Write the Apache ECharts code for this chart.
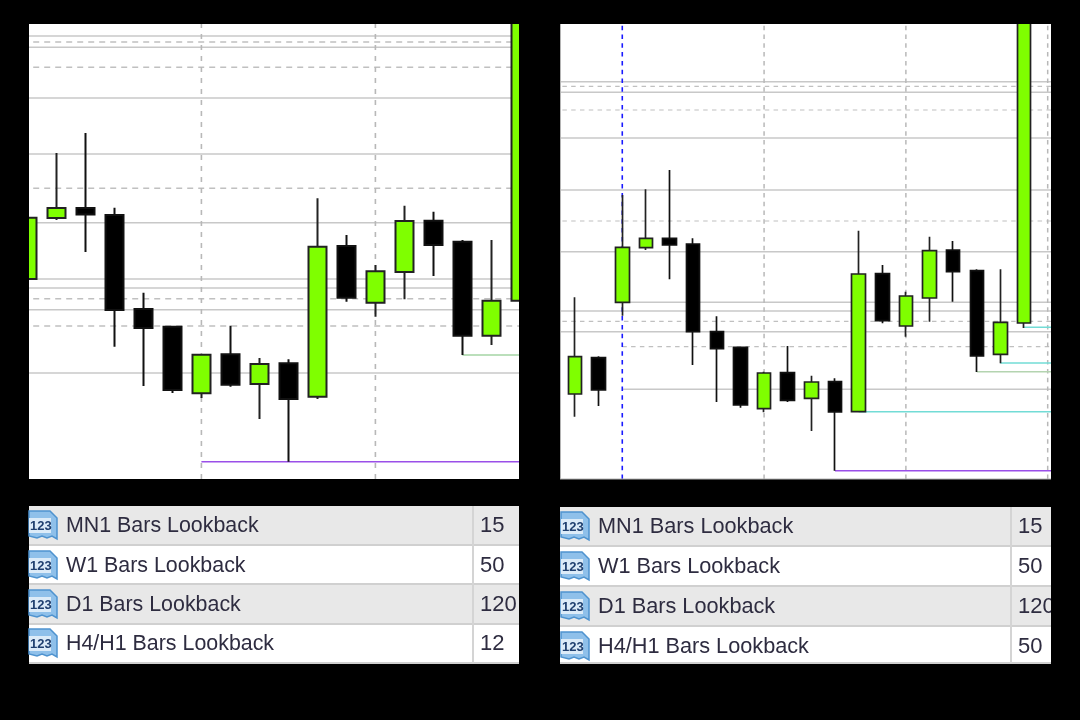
<!DOCTYPE html>
<html><head><meta charset="utf-8">
<style>html,body{margin:0;padding:0;background:#000}#c{width:1080px;height:720px;filter:blur(0.45px)}</style>
<script src="https://cdn.jsdelivr.net/npm/echarts@6/dist/echarts.min.js"></script>
</head><body><div id="c"></div>
<script>
// candle data: [open, close, low, high]
const leftCandles = [
[200,261.3,200,261.3],[261,271,259,326],[271,264.5,227,346],[264,169,132.3,271.3],[170,151,93,186.3],
[152.3,89,86,152.5],[85.7,124.3,81,125],[124.7,94.3,92.3,153.3],[95,115,60,121],[115.7,80,17.3,119.7],
[82.3,232.3,80,280.7],[233,181.3,177.3,244],[176.3,207.7,162.3,214],[207,258,179.7,273.3],[258.3,234,203,267.3],
[237.3,143.3,124,239],[143.3,178.3,134,239],[178.3,600,178,620]];
const rightCandles = [
[85,122.3,62.3,181.7],[121.3,89,73,122.7],[176.7,231.7,163.3,284],[231.3,240.7,229,289.7],[240.7,234,199.7,309],
[235,147.3,114,240.7],[147.3,130.3,77,162.7],[131.7,74,71.3,132],[70.3,106,66.7,107.3],[106.3,78.7,77,133],
[80.7,97,48,103.3],[97.3,67,8.3,100.7],[67.3,205,67.3,248.3],[205.3,158.3,155.7,214],[153,183,142.3,187.3],
[181,228.3,157.3,242.3],[229,207.3,177.3,238],[208.3,123,107,209.7],[124.7,156.7,115.7,209.7],[156,600,151,620]];
const leftSolid = [443,431.7,381,325,256.3,200,191,169.3,106];
const leftDashed = [437,411.7,290.7,180.3,153];
const rightSolid = [397.3,386.7,341,289,227.3,168,147.3];
const rightSolidFromC2 = [176.7,89.7];
const rightDashed = [392.7,369,258,157.7];
const rightDashedFromC2 = [132.3];
const leftVertical = [6,12];
const rightVertical = [8,14,20];
const rightBlue = [2];
// [level, first candle index]
const leftPurple = [[17.3,6]];
const leftGreen = [[124,15]];
const rightPurple = [[8.3,11]];
const rightTeal = [[67.3,12],[116,18],[151.7,19]];
const rightGreen = [[107.3,17]];
const rowLabels = ['MN1 Bars Lookback','W1 Bars Lookback','D1 Bars Lookback','H4/H1 Bars Lookback'];
const leftValues = ['15','50','120','12'];
const rightValues = ['15','50','120','50'];

const GRID='#c8c8c8', DASH='#c0c0c0';
const series=[];
function hline(g,x0,x1,v,color,w,dash,z){
  series.push({type:'line',xAxisIndex:g,yAxisIndex:g,data:[[x0,v],[x1,v]],showSymbol:false,silent:true,z:z||1,
    lineStyle:{color,width:w,type:dash||'solid'},animation:false});
}
function vline(g,x,color,w,dash,z){
  series.push({type:'line',xAxisIndex:g,yAxisIndex:g,data:[[x,0],[x,455]],showSymbol:false,silent:true,z:z||1,
    lineStyle:{color,width:w,type:dash},animation:false});
}
const xl=[0.055,16.952], xr=[-0.635,20.14];
leftSolid.forEach(v=>hline(0,xl[0],xl[1],v,GRID,1.5));
leftDashed.forEach(v=>hline(0,0.2,xl[1],v,DASH,1.4,[6,5]));
leftVertical.forEach(x=>vline(0,x,'#b8b8b8',1.6,[5,6]));
leftPurple.forEach(([v,i])=>hline(0,i,xl[1],v,'#9a4fe8',1.6,null,3));
leftGreen.forEach(([v,i])=>hline(0,i,xl[1],v,'#a4d4a4',1.5,null,3));
rightSolid.forEach(v=>hline(1,xr[0],xr[1],v,GRID,1.4));
rightSolidFromC2.forEach(v=>hline(1,2,xr[1],v,GRID,1.4));
rightDashed.forEach(v=>hline(1,xr[0]+0.1,xr[1],v,DASH,1.2,[4.5,4.3]));
rightDashedFromC2.forEach(v=>hline(1,2,xr[1],v,DASH,1.2,[4.5,4.3]));
rightVertical.forEach(x=>vline(1,x,'#b8b8b8',1.5,[4.5,4.3]));
rightBlue.forEach(x=>vline(1,x,'#1a1aff',1.6,[4.5,4.3],2));
rightPurple.forEach(([v,i])=>hline(1,i,xr[1],v,'#9a4fe8',1.6,null,3));
rightTeal.forEach(([v,i])=>hline(1,i,xr[1],v,'#72dcd6',1.6,null,3));
rightGreen.forEach(([v,i])=>hline(1,i,xr[1],v,'#b4d4b0',1.6,null,3));
function candles(g,data,w,bw){
  series.push({type:'candlestick',xAxisIndex:g,yAxisIndex:g,z:4,clip:true,barWidth:w,animation:false,silent:true,
    data:data.map((d,i)=>[i,...d]),
    itemStyle:{color:'#7fff00',color0:'#000',borderColor:'#222',borderColor0:'#111',borderWidth:bw}});
}
candles(0,leftCandles,18,2);
candles(1,rightCandles,14,1.7);

const gfx=[];
// black masks: the page frame around the two plots
[[0,0,1080,24],[0,24,29,460],[519,24,41,460],[1051,24,29,460]].forEach(m=>
  gfx.push({type:'rect',z:7,shape:{x:m[0],y:m[1],width:m[2],height:m[3]},style:{fill:'#000'}}));
gfx.push({type:'rect',z:7,shape:{x:560,y:24,width:1,height:455},style:{fill:'#b4b4b4'}});
gfx.push({type:'rect',z:7,shape:{x:560,y:478.5,width:491,height:1},style:{fill:'#b4b4b4'}});
function icon(x,cy){
  const l=x,r=x+28,t=cy-15,b=cy+15;
  gfx.push({type:'polygon',z:10,shape:{points:[[l,t+1],[r-7,t+1],[r,t+8],[r,b-1],[r-5,b-4],[r-10,b-2],[r-15,b-4],[r-20,b-2],[l,b-4]]},
    style:{fill:'#8fc0ea',stroke:'#4f93cf',lineWidth:1.5}});
  gfx.push({type:'rect',z:10,shape:{x:l,y:cy-7,width:22,height:15},style:{fill:'#dcebf8'}});
  gfx.push({type:'text',z:11,x:l+1,y:cy+1,style:{text:'123',font:'bold 13px "Liberation Sans"',fill:'#1f3f6f',textVerticalAlign:'middle'}});
}
function table(x0,x1,sep,rows,vals,tx,vx,fs){
  // rows: [top,bottom,text centre]
  rows.forEach((r,i)=>{
    gfx.push({type:'rect',z:8,shape:{x:x0,y:r[0],width:x1-x0,height:r[1]-r[0]},style:{fill:i%2?'#fff':'#e8e8e8'}});
    gfx.push({type:'rect',z:9,shape:{x:x0,y:r[1]-1,width:x1-x0,height:2},style:{fill:'#d0d0d0'}});
    gfx.push({type:'rect',z:9,shape:{x:sep-1,y:r[0],width:2,height:r[1]-r[0]},style:{fill:'#d4d4d4'}});
    icon(x0+(x0<100?0:1),r[2]);
    gfx.push({type:'text',z:11,x:tx,y:r[2]+1,style:{text:rowLabels[i],font:fs+'px "Liberation Sans"',fill:'#2e2c40',textVerticalAlign:'middle'}});
    gfx.push({type:'text',z:11,x:vx,y:r[2]+1,style:{text:vals[i],font:'22px "Liberation Sans"',fill:'#2e2c40',textVerticalAlign:'middle'}});
  });
}
table(29,519,473,[[506,545,525],[545,584,565],[584,624,604],[624,663,643]],leftValues,66,480,21.4);
table(560,1051,1011,[[507,546,526],[546,586,566],[586,626,606],[626,663,646]],rightValues,598,1018,21.7);
gfx.push({type:'rect',z:12,shape:{x:1051,y:500,width:29,height:170},style:{fill:'#000'}});

const chart=echarts.init(document.getElementById('c'),null,{renderer:'canvas'});
chart.setOption({
  backgroundColor:'#000',animation:false,
  grid:[
    {left:29,top:24,width:490,height:455,show:true,backgroundColor:'#fff',borderWidth:0},
    {left:560,top:24,width:491,height:455,show:true,backgroundColor:'#fff',borderWidth:0}
  ],
  xAxis:[
    {type:'value',gridIndex:0,min:xl[0],max:xl[1],show:false,splitLine:{show:false}},
    {type:'value',gridIndex:1,min:xr[0],max:xr[1],show:false,splitLine:{show:false}}
  ],
  yAxis:[
    {type:'value',gridIndex:0,min:0,max:455,show:false,splitLine:{show:false}},
    {type:'value',gridIndex:1,min:0,max:455,show:false,splitLine:{show:false}}
  ],
  series,graphic:{elements:gfx}
});
</script></body></html>
